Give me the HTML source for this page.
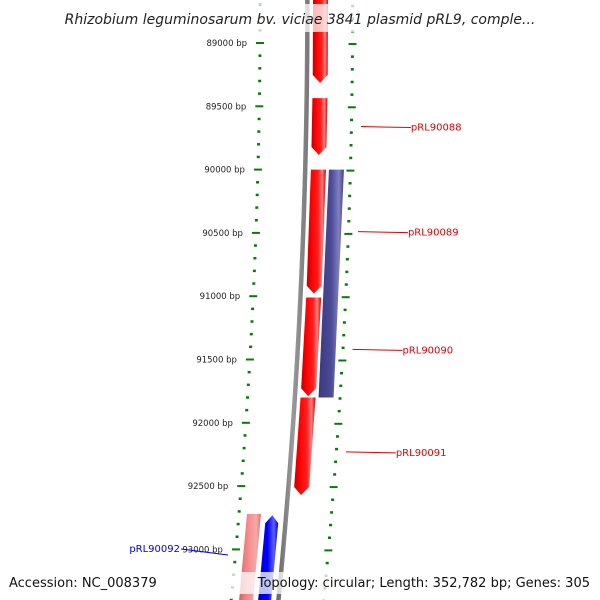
<!DOCTYPE html>
<html><head><meta charset="utf-8"><style>
html,body{margin:0;padding:0;background:#fff;width:600px;height:600px;overflow:hidden}
svg{display:block;font-family:"DejaVu Sans","Liberation Sans",sans-serif}
</style></head><body>
<svg id="map" width="600" height="600" viewBox="0 0 600 600">
<defs>
<linearGradient id="gRed" x1="0" x2="1" y1="0" y2="0"><stop offset="0" stop-color="#c00000"/><stop offset="0.25" stop-color="#ff0000"/><stop offset="0.6" stop-color="#ff2020"/><stop offset="0.8" stop-color="#ff8080"/><stop offset="1" stop-color="#e00000"/></linearGradient>
<linearGradient id="gPur" x1="0" x2="1" y1="0" y2="0"><stop offset="0" stop-color="#3a3a80"/><stop offset="0.5" stop-color="#4a4a98"/><stop offset="0.8" stop-color="#8080c0"/><stop offset="1" stop-color="#404088"/></linearGradient>
<linearGradient id="gPink" x1="0" x2="1" y1="0" y2="0"><stop offset="0" stop-color="#c06060"/><stop offset="0.3" stop-color="#f08080"/><stop offset="0.8" stop-color="#f8a8a8"/><stop offset="1" stop-color="#e07070"/></linearGradient>
<linearGradient id="gBlue" x1="0" x2="1" y1="0" y2="0"><stop offset="0" stop-color="#0000c0"/><stop offset="0.5" stop-color="#0000ff"/><stop offset="0.8" stop-color="#6060ff"/><stop offset="1" stop-color="#0000d0"/></linearGradient>
<linearGradient id="gGray" x1="0" x2="1" y1="0" y2="0"><stop offset="0" stop-color="#666"/><stop offset="0.5" stop-color="#999"/><stop offset="1" stop-color="#777"/></linearGradient>
</defs>
<g id="ticks"></g><g id="genes"></g><g id="labels"></g>
<rect x="0" y="4" width="600" height="28" fill="#fff" fill-opacity="0.75"/>
<text x="300" y="24" text-anchor="middle" font-size="14" font-style="italic" fill="#222">Rhizobium leguminosarum bv. viciae 3841 plasmid pRL9, comple...</text>
<rect x="0" y="572" width="600" height="22" fill="#fff" fill-opacity="0.75"/>
<text x="9" y="587" font-size="13" fill="#111">Accession: NC_008379</text>
<text x="590" y="587" text-anchor="end" font-size="13" fill="#111">Topology: circular; Length: 352,782 bp; Genes: 305</text>
</svg>
<script>
const tickBp=[89000,89500,90000,90500,91000,91500,92000,92500,93000,93500];
const geneNames=["g1","pRL90088","pRL90089","pRL90090","pRL90091","pRL90089b","pRL90092","g8"];
const geneStart=[88560,89435,90000,91010,91800,90000,92720,92730];
const geneEnd=[89315,89885,90980,91790,92570,91800,93500,93500];
const geneStrand=[1,1,1,1,1,1,-1,-1];
const geneTrack=["red","red","red","red","red","pur","pink","blue"];
const labelNames=["pRL90088","pRL90089","pRL90090","pRL90091","pRL90092"];
const labelBp=[89660,90490,91420,92230,93050];

const NS="http://www.w3.org/2000/svg";
function yOf(bp){return 43+(bp-89000)*0.1266;}
function sh(y){const d=y-43;return 0.006*d+0.000082*d*d;}
function X(base,y){return base-sh(y);}
const trackX={red:[313,328],pur:[331,346],pink:[268,282],blue:[287,300]};
const fills={red:"url(#gRed)",pur:"url(#gPur)",pink:"url(#gPink)",blue:"url(#gBlue)"};
function mk(tag,attrs,parent){const e=document.createElementNS(NS,tag);for(const k in attrs)e.setAttribute(k,attrs[k]);parent.appendChild(e);return e;}
const T=document.getElementById('ticks'),G=document.getElementById('genes'),L=document.getElementById('labels');

let pts=[];for(let y=-5;y<=605;y+=10)pts.push(X(305,y)+","+y);for(let y=605;y>=-5;y-=10)pts.push(X(309.5,y)+","+y);
const bb=mk('polygon',{points:pts.join(' '),fill:"url(#gGray)"},G);



for(let bp=88700;bp<=93600;bp+=100){
  const y=yOf(bp);const major=(bp%500===0);
  const w=major?8:3,h=major?2:2.5;
  const l=mk('rect',{x:X(260,y)-w/2,y:y-h/2,width:w,height:h,fill:"#0a7a0a"},T);
  
  
  const r=mk('rect',{x:X(352.5,y+1)-w/2,y:y+1-h/2,width:w,height:h,fill:"#0a7a0a"},T);
  
  
}
tickBp.forEach(bp=>{const y=yOf(bp);
  const t=mk('text',{x:X(247,y),y:y+3,"text-anchor":"end","font-size":"8.5",fill:"#222"},T);
  t.textContent=bp+" bp";
  
  
});

geneStart.forEach((s,i)=>{
  const y0=yOf(s),y1=yOf(geneEnd[i]);const [a,b]=trackX[geneTrack[i]];const ah=8;const m=(a+b)/2;
  let p;
  if(geneStrand[i]>0){
    if(geneTrack[i]==="pur")p=[[a,y0],[b,y0],[b,y1],[a,y1]];
    else p=[[a,y0],[b,y0],[b,y1-ah],[m,y1],[a,y1-ah]];
  } else {
    const top=Math.min(y0,y1);const bot=Math.max(y0,y1);
    if(geneTrack[i]==="blue") p=[[m,top],[b,top+ah],[b,bot],[a,bot],[a,top+ah]];
    else p=[[a,top],[b,top],[b,bot],[a,bot]];
  }
  const poly=mk('polygon',{points:p.map(q=>X(q[0],q[1])+","+q[1]).join(' '),fill:fills[geneTrack[i]]},G);
  
  
});

labelNames.forEach((n,i)=>{const y=yOf(labelBp[i]);
  if(i<4){
    const x0=X(362,y);
    const ln=mk('line',{x1:x0,y1:y,x2:x0+50,y2:y+1,stroke:"#e00000","stroke-width":"1"},L);
    
    
    const t=mk('text',{x:x0+50,y:y+4,"font-size":"10",fill:"#e00000"},L);
    t.textContent=n;
    
    
  } else {
    const ln=mk('line',{x1:181,y1:549,x2:228,y2:555,stroke:"#0000e0","stroke-width":"1"},L);
    
    
    const t=mk('text',{x:180,y:552,"text-anchor":"end","font-size":"10",fill:"#0000e0"},L);
    t.textContent=n;
    
    
  }
});
</script>
</body></html>
